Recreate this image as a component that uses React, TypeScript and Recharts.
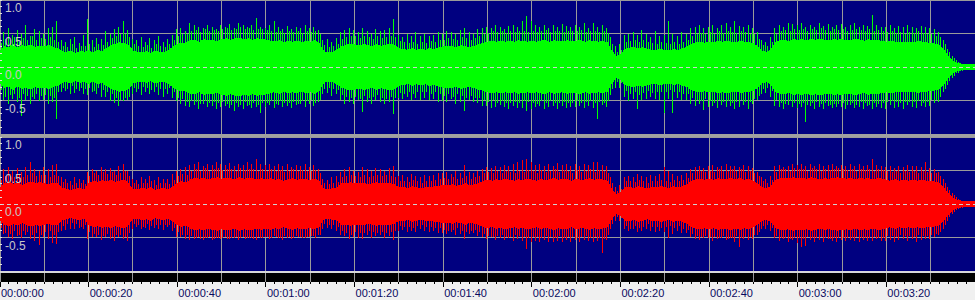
import React from 'react';
import { ComposedChart, Area, Bar, XAxis, YAxis, CartesianGrid, ReferenceLine } from 'recharts';

// Levels are in percent of full scale (100 = 1.0). One value per second of audio (0..220 s).
// BODY = dense core of the waveform (symmetric), UP/DN = tallest peaks, UP2/DN2 = secondary peaks.
const L_BODY = [
  24,30,29,33,28,32,30,33,29,31,
  30,32,29,27,23,21,24,20,23,22,
  24,21,25,23,27,31,34,36,35,32,
  24,22,21,23,20,24,22,21,25,29,
  34,35,36,39,40,37,41,39,40,38,
  41,42,40,42,43,41,42,40,42,41,
  40,38,37,39,36,38,37,39,36,38,
  37,39,36,23,21,22,25,30,32,34,
  33,31,34,32,30,33,31,32,34,32,
  28,26,25,27,25,26,25,28,26,29,
  30,31,30,29,32,30,29,31,33,35,
  37,38,37,39,37,38,37,39,38,37,
  39,37,38,40,37,39,38,37,39,38,
  38,40,37,39,38,37,39,36,24,16,
  18,26,28,29,27,29,26,25,25,26,
  25,24,26,25,27,29,34,36,37,35,
  37,36,38,37,39,37,36,38,37,36,
  35,30,23,22,26,36,39,40,38,41,
  40,41,39,41,40,42,40,39,41,40,
  41,39,40,41,40,38,41,39,40,38,
  37,38,37,37,36,37,36,38,37,36,
  35,34,32,25,15,9,6,4,3,3,3,
];
const L_UP = [
  45,52,58,48,55,50,62,47,56,53,
  50,58,60,68,40,38,42,45,36,48,
  72,40,44,42,53,50,56,60,68,55,
  42,40,45,38,44,40,46,38,42,48,
  56,58,54,65,62,60,58,63,60,57,
  62,60,64,58,66,62,60,63,73,60,
  58,62,68,60,57,61,56,60,58,62,
  58,60,55,40,42,38,44,52,55,58,
  55,52,58,54,50,56,53,55,58,72,
  48,45,50,46,52,47,50,46,48,52,
  50,54,52,50,55,58,52,50,56,58,
  60,58,62,60,57,61,63,60,68,76,
  68,62,60,63,58,62,60,64,61,59,
  62,60,65,58,66,60,62,58,45,32,
  34,48,50,52,48,55,50,45,53,46,
  48,68,50,46,52,50,58,60,62,58,
  60,63,58,62,65,60,68,61,59,63,
  58,52,40,38,45,58,62,60,65,64,
  62,65,60,63,60,66,61,64,60,63,
  64,60,62,66,60,63,61,78,62,60,
  60,62,58,61,59,62,60,58,61,60,
  58,56,52,40,27,17,10,6,4,4,4,
];
const L_DN = [
  42,50,55,48,52,73,50,55,48,52,
  48,55,52,78,38,35,40,38,36,40,
  42,38,40,44,46,50,55,58,52,50,
  40,38,42,36,40,38,42,44,40,46,
  52,55,58,60,58,62,56,60,58,63,
  60,58,62,66,60,63,58,61,60,68,
  60,58,62,56,60,58,62,57,55,60,
  55,58,52,40,38,42,40,50,55,52,
  55,50,68,52,55,50,53,56,52,70,
  46,48,44,50,46,48,45,50,47,52,
  50,52,48,55,52,66,50,52,55,58,
  58,62,60,57,60,63,58,61,62,66,
  63,60,58,62,60,59,62,58,61,60,
  60,58,62,59,61,77,58,60,42,30,
  32,45,50,48,63,50,47,45,48,50,
  68,48,68,46,50,48,55,58,56,65,
  60,58,62,57,60,58,63,60,58,62,
  56,50,40,38,45,58,60,62,58,60,
  62,60,82,58,62,60,63,58,61,60,
  60,62,58,61,60,63,58,62,60,61,
  62,58,61,60,63,58,60,62,58,60,
  58,55,52,38,26,16,10,6,4,4,4,
];
const L_UP2 = [
  36,42,40,45,38,44,41,46,40,43,
  42,45,40,38,32,30,34,29,32,31,
  34,30,35,33,38,43,47,50,49,45,
  34,31,30,33,29,34,31,30,35,40,
  47,49,50,54,55,52,56,54,55,53,
  56,58,55,57,60,56,58,55,57,56,
  55,53,52,54,51,53,52,54,51,53,
  52,54,50,33,30,31,35,42,45,47,
  46,44,47,45,42,46,44,45,47,45,
  39,37,36,38,35,37,36,39,37,40,
  41,44,42,40,45,43,41,44,46,49,
  51,53,52,54,51,53,52,54,53,52,
  54,52,53,55,52,54,53,52,54,53,
  53,55,52,54,53,52,54,51,34,23,
  25,37,39,40,38,40,37,36,35,37,
  36,34,37,35,38,40,47,50,51,49,
  52,50,53,51,54,52,51,53,52,50,
  49,42,33,31,37,50,54,55,53,56,
  55,57,54,56,55,58,55,54,57,55,
  56,54,55,57,55,53,56,54,55,53,
  52,53,51,52,50,52,51,53,51,50,
  49,47,45,34,22,14,8,5,4,4,4,
];
const L_DN2 = [
  34,44,42,40,46,39,43,45,41,44,
  41,43,46,37,31,33,29,32,30,33,
  32,35,31,34,37,41,45,48,46,44,
  32,33,29,31,34,30,33,32,31,38,
  45,48,52,50,53,55,51,54,52,55,
  53,55,57,54,56,53,57,54,56,55,
  54,52,55,51,53,54,52,55,50,52,
  50,53,48,32,31,33,34,41,44,46,
  45,47,43,46,44,42,45,47,44,46,
  38,40,37,39,36,38,37,40,38,41,
  42,40,44,41,43,46,42,45,47,50,
  52,50,54,51,53,55,52,54,52,53,
  53,55,52,54,51,53,55,52,53,54,
  52,54,53,51,55,52,53,50,33,22,
  24,36,40,38,41,39,36,38,36,38,
  37,35,38,36,39,41,46,49,50,48,
  51,53,50,52,51,54,52,50,53,51,
  48,43,32,32,36,49,53,56,52,55,
  56,54,57,55,53,56,54,57,55,56,
  55,57,54,56,53,55,57,54,56,54,
  53,51,52,54,51,53,52,51,53,52,
  50,48,44,33,21,13,8,5,4,4,4,
];
const R_BODY = [
  24,30,32,29,31,28,30,33,30,32,
  30,29,31,30,24,22,20,22,23,21,
  30,34,32,35,33,35,32,34,36,30,
  22,21,23,22,24,20,22,23,21,26,
  30,33,32,36,38,37,39,36,38,39,
  37,38,38,36,39,37,38,38,36,38,
  36,38,35,37,34,36,38,35,37,36,
  35,37,34,22,21,23,24,30,30,32,
  30,30,31,29,30,32,30,31,30,29,
  24,25,23,26,24,22,25,24,26,26,
  28,27,29,26,28,30,27,29,30,34,
  35,34,36,34,37,35,34,36,35,37,
  36,34,37,35,36,38,35,37,36,34,
  37,35,36,38,35,37,36,34,22,14,
  16,24,25,23,26,24,22,25,24,26,
  25,23,26,24,26,28,34,36,37,35,
  37,35,38,36,37,38,36,38,35,37,
  34,30,24,23,26,35,38,38,37,39,
  38,38,37,39,38,36,38,37,38,39,
  38,37,38,36,38,37,38,36,38,37,
  35,34,36,34,35,34,36,34,35,34,
  34,33,30,23,15,9,6,4,3,3,3,
];
const R_UP = [
  45,52,55,50,54,48,55,63,52,50,
  55,52,58,60,40,38,35,40,38,36,
  48,52,50,55,52,54,50,56,60,50,
  38,36,40,38,42,36,40,38,37,45,
  50,52,55,58,60,62,57,60,58,62,
  60,58,61,57,60,58,62,59,67,60,
  58,60,56,59,57,60,55,58,56,60,
  55,58,52,38,36,40,42,48,52,55,
  50,48,55,52,50,54,52,50,53,57,
  42,44,40,45,42,40,43,42,44,46,
  46,48,45,50,47,58,48,46,50,52,
  55,53,57,55,58,56,60,62,65,67,
  62,58,60,56,59,57,61,58,60,57,
  59,57,60,58,62,63,58,56,40,26,
  28,40,42,40,45,42,40,44,42,45,
  55,50,45,42,44,46,52,55,57,54,
  56,58,55,57,60,56,57,55,58,56,
  54,48,40,38,42,56,58,55,57,60,
  58,60,57,59,56,60,57,58,60,57,
  58,56,60,57,59,56,58,67,58,56,
  55,57,54,56,55,58,56,57,55,63,
  54,52,48,38,26,16,10,6,4,4,4,
];
const R_DN = [
  48,45,50,52,48,50,46,52,55,60,
  50,52,58,60,40,38,36,38,35,37,
  52,50,48,54,50,52,55,50,52,54,
  36,34,38,35,38,36,37,38,35,40,
  48,50,52,54,52,50,53,51,54,52,
  52,50,53,51,54,50,52,51,54,50,
  50,52,48,51,53,50,52,48,50,51,
  50,48,46,36,35,38,40,46,48,53,
  48,50,52,47,50,48,46,50,48,53,
  40,38,42,40,41,38,40,42,40,43,
  44,45,42,46,44,52,45,44,47,50,
  52,50,53,51,54,52,55,53,56,67,
  58,55,57,54,58,56,55,57,54,56,
  55,57,54,56,58,55,73,54,38,24,
  26,38,40,38,42,40,38,40,42,40,
  42,50,45,40,42,44,50,52,54,50,
  52,55,53,50,54,52,56,64,52,54,
  52,46,38,36,40,52,55,53,56,54,
  58,64,62,55,57,54,56,53,55,57,
  54,56,53,55,57,54,56,55,53,56,
  55,53,56,54,52,55,53,56,54,52,
  52,50,46,36,25,15,9,5,4,4,4,
];
const R_UP2 = [
  36,42,45,41,44,40,43,47,42,44,
  43,41,44,42,33,31,28,31,32,30,
  42,46,44,48,45,48,44,47,50,42,
  31,30,32,31,34,29,31,32,30,36,
  42,45,44,49,52,50,53,50,52,53,
  51,52,52,50,53,51,52,52,50,52,
  50,52,49,51,48,50,52,49,51,50,
  49,51,47,31,30,32,33,41,42,44,
  42,41,43,40,42,44,42,43,42,41,
  34,35,33,36,34,32,35,34,36,37,
  39,38,40,37,39,42,38,40,42,46,
  48,47,49,47,50,48,47,49,48,51,
  50,47,51,48,49,52,48,51,50,47,
  51,48,49,52,48,51,50,47,31,20,
  22,34,35,33,36,34,31,35,34,36,
  35,33,36,34,36,39,46,49,50,48,
  50,48,52,49,50,52,49,52,48,50,
  47,42,34,32,36,48,52,52,50,53,
  52,52,50,53,52,50,52,51,52,53,
  52,51,52,50,52,51,52,50,52,51,
  49,48,50,47,49,48,50,47,49,48,
  47,46,42,32,21,13,8,5,4,4,4,
];
const R_DN2 = [
  35,43,44,40,45,41,42,46,43,45,
  42,40,45,41,32,30,29,30,33,31,
  41,45,46,47,44,49,45,46,49,43,
  30,31,33,30,33,30,32,31,31,35,
  41,46,45,48,51,51,52,49,53,52,
  50,53,51,49,52,52,51,53,49,51,
  49,51,50,50,47,49,51,50,50,49,
  48,50,46,30,31,31,34,40,43,45,
  41,42,44,41,41,43,41,44,41,40,
  33,34,34,35,33,31,34,35,35,36,
  38,39,39,36,40,41,39,39,41,45,
  47,48,48,46,49,49,46,48,49,50,
  49,48,50,47,50,51,47,50,49,48,
  50,49,48,51,49,50,51,46,30,19,
  21,33,36,32,35,35,30,34,35,35,
  34,32,35,33,37,38,45,48,49,47,
  49,49,51,48,51,51,48,51,49,49,
  46,41,33,31,35,47,51,51,51,52,
  51,53,49,52,51,49,51,52,51,52,
  51,50,51,49,51,50,51,49,51,50,
  48,47,49,46,48,47,49,46,48,47,
  46,45,41,31,20,12,7,5,4,4,4,
];

const GRID_SECONDS = [10,20,30,40,50,60,70,80,90,100,110,120,130,140,150,160,170,180,190,200,210];
const TIME_TICKS = [0,2,4,6,8,10,12,14,16,18,20,22,24,26,28,30,32,34,36,38,40,42,44,46,48,50,52,54,56,58,60,62,64,66,68,70,72,74,76,78,80,82,84,86,88,90,92,94,96,98,100,102,104,106,108,110,112,114,116,118,120,122,124,126,128,130,132,134,136,138,140,142,144,146,148,150,152,154,156,158,160,162,164,166,168,170,172,174,176,178,180,182,184,186,188,190,192,194,196,198,200,202,204,206,208,210,212,214,216,218];
const LEVEL_TICKS = [100,90,80,70,60,50,40,30,20,10,0,-10,-20,-30,-40,-50,-60,-70,-80,-90];
const LEVEL_LABELS = [100, 50, 0, -50];
const GRID_LEVELS = [100, 50, -50, -100];

const rowsL = L_BODY.map((b, i) => ({ t: i, body: b, up: L_UP[i], dn: L_DN[i], up2: L_UP2[i], dn2: L_DN2[i] }));
const rowsR = R_BODY.map((b, i) => ({ t: i, body: b, up: R_UP[i], dn: R_DN[i], up2: R_UP2[i], dn2: R_DN2[i] }));

const NAVY = '#000080';
const GRID = '#9a9a9a';
const FONT = "Arial, 'Liberation Sans', sans-serif";

const pad = (n: number) => (n < 10 ? '0' + n : '' + n);
const fmtTime = (s: number) => `00:${pad(Math.floor(s / 60))}:${pad(s % 60)}`;

const LevelTick = (props: any) => {
  const { y, payload } = props;
  const v = payload.value;
  const labeled = LEVEL_LABELS.includes(v);
  return (
    <g>
      <line x1={0} x2={2} y1={y} y2={y} stroke="#e0e0e0" />
      {labeled && (
        <text x={5} y={y + 12} fontSize={12} fontFamily={FONT} fill="#c8c8c8" textAnchor="start">
          {(v / 100).toFixed(1)}
        </text>
      )}
    </g>
  );
};

const TimeTick = (props: any) => {
  const { x, y, payload } = props;
  const v = payload.value;
  const major = v % 20 === 0;
  return (
    <g>
      <line x1={x} x2={x} y1={y} y2={y + (major ? 5 : 2)} stroke="#000" />
      {major && (
        <text x={x + 1} y={y + 15} fontSize={11} fontFamily={FONT} fill="#0a0a60">
          {fmtTime(v)}
        </text>
      )}
    </g>
  );
};

// 1px spike snapped to the pixel grid (position/size come from the Bar's scale)
const spikeShape = (color: string) => (p: any) => {
  const top = Math.min(p.y, p.y + p.height);
  const h = Math.abs(p.height);
  return <rect x={Math.round(p.x)} y={Math.round(top)} width={1} height={Math.max(1, Math.round(h))} fill={color} />;
};

const M = { top: 0, right: 0, bottom: 0, left: 0 };

const Channel = ({ rows, color, top }: { rows: any[]; color: string; top: number }) => (
  <div style={{ position: 'absolute', left: 0, top, width: 975, height: 134, overflow: 'hidden', background: NAVY, shapeRendering: 'crispEdges' }}>
    <div style={{ position: 'absolute', left: 0, top: 0 }}>
      <ComposedChart width={975} height={134} data={rows} barGap={1} margin={M}>
        <XAxis dataKey="t" type="number" domain={[0, 220]} ticks={GRID_SECONDS} hide allowDataOverflow />
        <YAxis yAxisId="g" type="number" domain={[-100, 100]} ticks={GRID_LEVELS} hide allowDataOverflow />
        <CartesianGrid yAxisId="g" stroke={GRID} />
        <Area
          yAxisId="g"
          dataKey={(d: any) => [-d.body, d.body]}
          type="linear"
          stroke={color}
          fill={color}
          fillOpacity={1}
          strokeWidth={1}
          dot={false}
          activeDot={false}
          isAnimationActive={false}
        />
        <Bar yAxisId="g" dataKey={(d: any) => [-d.dn, d.up]} fill={color} barSize={1} shape={spikeShape(color)} isAnimationActive={false} />
        <Bar yAxisId="g" dataKey={(d: any) => [-d.dn2, d.up2]} fill={color} barSize={1} shape={spikeShape(color)} isAnimationActive={false} />
      </ComposedChart>
    </div>
    <div style={{ position: 'absolute', left: 0, top: 0 }}>
      <ComposedChart width={975} height={134} data={rows} margin={M}>
        <XAxis dataKey="t" type="number" domain={[0, 220]} hide allowDataOverflow />
        <YAxis
          dataKey="body"
          type="number"
          domain={[-100, 100]}
          allowDataOverflow
          ticks={LEVEL_TICKS}
          interval={0}
          mirror
          axisLine={false}
          tickLine={false}
          tickSize={0}
          tickMargin={0}
          tick={<LevelTick />}
        />
        <ReferenceLine y={0} stroke="#d0d0d0" strokeDasharray="4 3" ifOverflow="visible" />
      </ComposedChart>
    </div>
  </div>
);

export default function App() {
  return (
    <div style={{ position: 'absolute', left: 0, top: 0, width: 975, height: 300, background: '#f0f0f0', overflow: 'hidden' }}>
      <Channel rows={rowsL} color="#00ff00" top={0} />
      <div style={{ position: 'absolute', left: 0, top: 134, width: 975, height: 3, background: '#a0a0a0' }} />
      <Channel rows={rowsR} color="#ff0000" top={137} />
      <div style={{ position: 'absolute', left: 0, top: 271, width: 975, height: 2, background: '#d8d8d8' }} />
      <div style={{ position: 'absolute', left: 0, top: 273, width: 975, height: 27, shapeRendering: 'crispEdges' }}>
        <ComposedChart width={975} height={27} data={rowsL} margin={M}>
          <XAxis xAxisId="g" dataKey="t" type="number" domain={[0, 220]} ticks={GRID_SECONDS} hide />
          <XAxis
            dataKey="t"
            type="number"
            domain={[0, 220]}
            ticks={TIME_TICKS}
            interval={0}
            height={18}
            axisLine={false}
            tickLine={false}
            tickSize={0}
            tickMargin={0}
            tick={<TimeTick />}
          />
          <YAxis hide domain={[0, 1]} />
          <CartesianGrid xAxisId="g" horizontal={false} stroke={GRID} fill="#000000" />
        </ComposedChart>
      </div>
    </div>
  );
}
